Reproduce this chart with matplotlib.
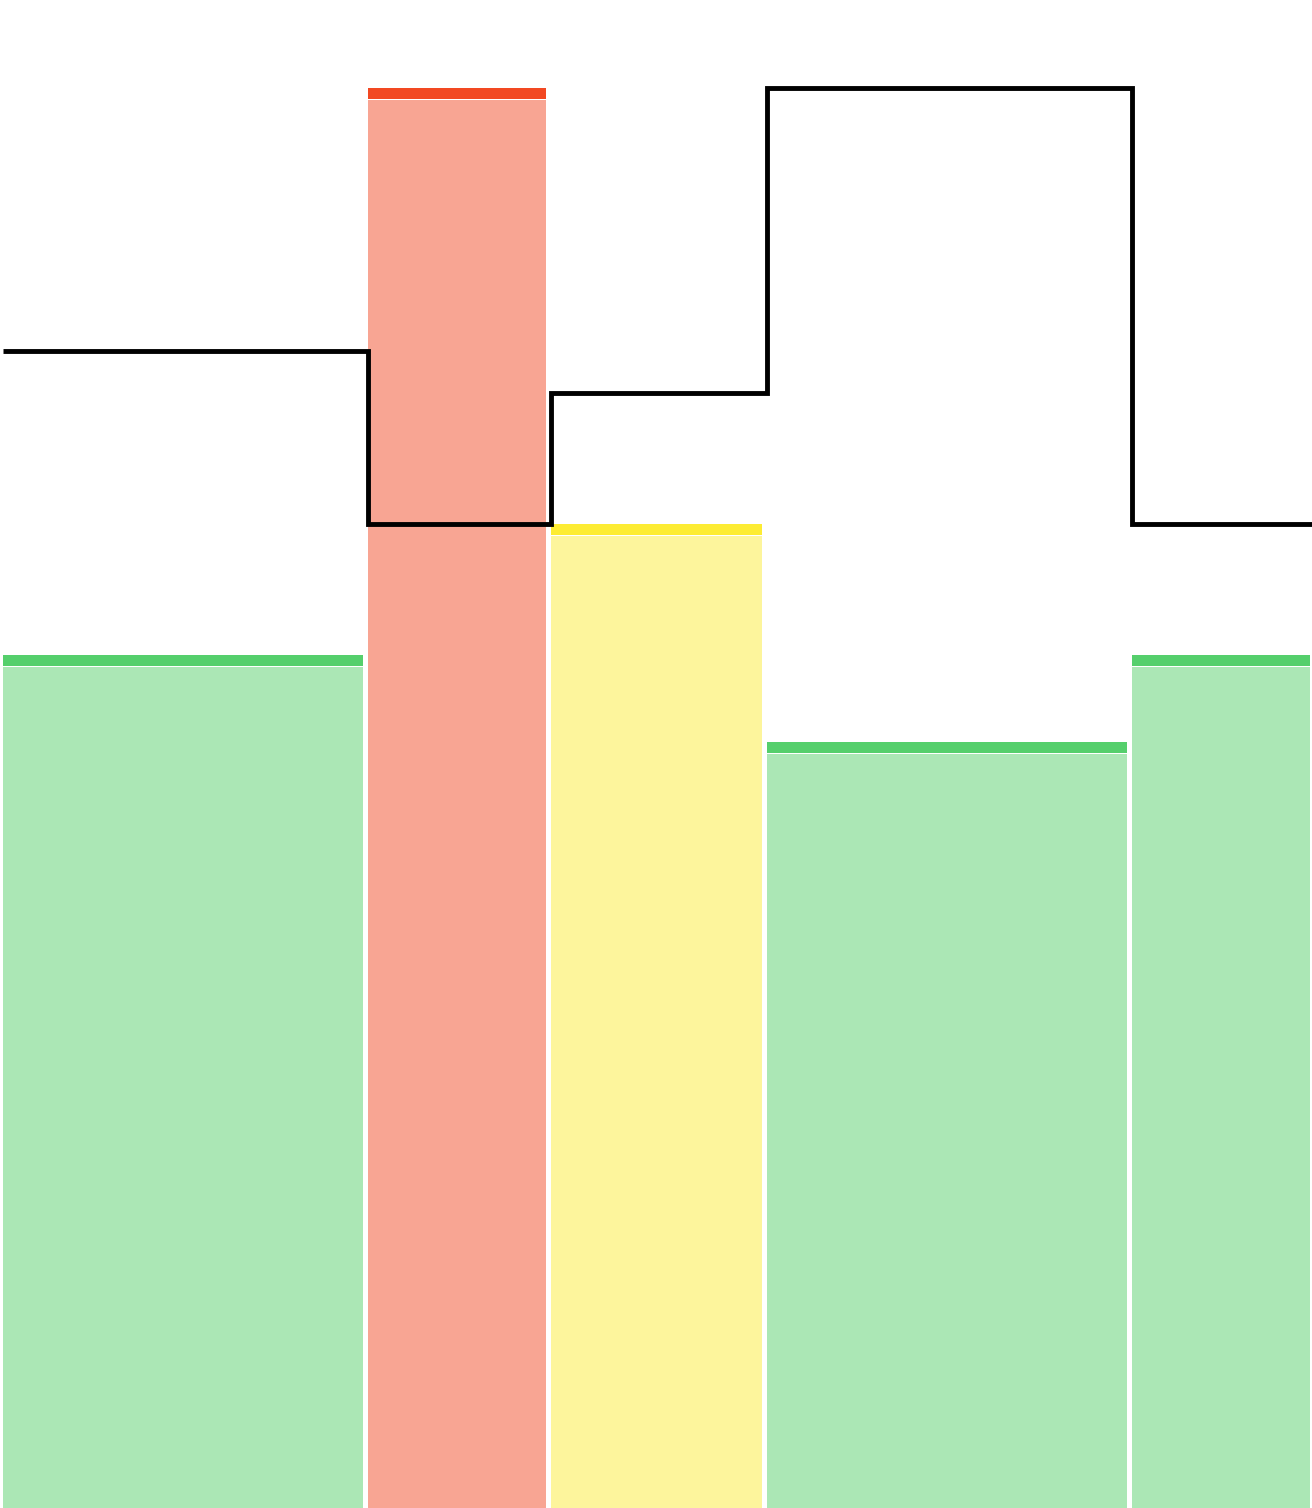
import numpy as np
import matplotlib
matplotlib.use("Agg")
import matplotlib.pyplot as plt

# ---- data ----
durations = [365, 183, 216, 365, 183]          # segment lengths
bar_values = [60.05, 100.0, 69.3, 53.95, 60.05]  # bar heights
bar_status = ["ok", "bad", "warn", "ok", "ok"]
line_values = [81.5, 69.3, 78.5, 100.0, 69.3]   # step line level per segment

# ---- styles ----
fill_colors = {"ok": "#abe7b5", "bad": "#f8a593", "warn": "#fdf59c"}
band_colors = {"ok": "#55cf6c", "bad": "#f24822", "warn": "#fdec33"}

fig = plt.figure(figsize=(13.12, 15.08), dpi=100)
ax = fig.add_axes([0, 0, 1, 1])
ax.set_xlim(-3, 1309)
ax.set_ylim(0, 106.2)
ax.axis("off")

px_y = 106.2 / 1508.0
gap = 5
band = 11 * px_y
white = 1 * px_y

starts = np.concatenate([[0], np.cumsum(durations)[:-1]])
for s, d, v, st in zip(starts, durations, bar_values, bar_status):
    ax.bar(s, v - band - white, width=d - gap, align="edge",
           color=fill_colors[st], linewidth=0)
    ax.bar(s, band, bottom=v - band, width=d - gap, align="edge",
           color=band_colors[st], linewidth=0)

xs = np.concatenate([starts, [starts[-1] + durations[-1]]])
ys = line_values + [line_values[-1]]
ax.step(xs, ys, where="post", color="black", linewidth=3.5,
        solid_joinstyle="miter", solid_capstyle="butt", zorder=5)

fig.savefig("out.png", dpi=100)
